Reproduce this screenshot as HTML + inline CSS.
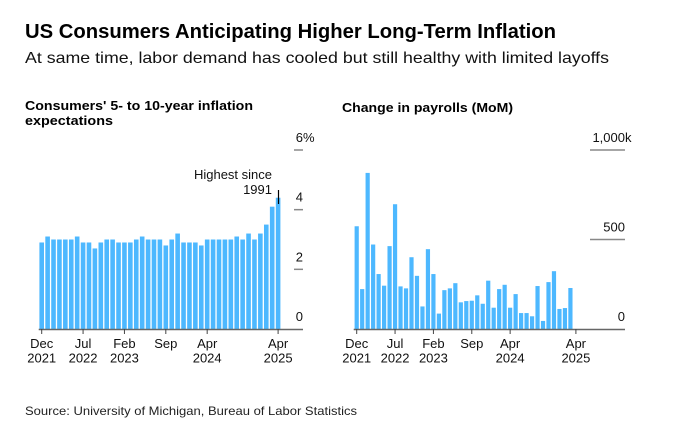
<!DOCTYPE html>
<html><head><meta charset="utf-8"><style>
html,body{margin:0;padding:0;background:#fff;}
svg{display:block;font-family:"Liberation Sans",sans-serif;}
</style></head><body>
<svg id="c" width="674" height="435" viewBox="0 0 674 435">
<text x="25" y="38" font-size="20" font-weight="bold" fill="#000" textLength="531" lengthAdjust="spacingAndGlyphs">US Consumers Anticipating Higher Long-Term Inflation</text>
<text x="25" y="63" font-size="16" fill="#111" textLength="584" lengthAdjust="spacingAndGlyphs">At same time, labor demand has cooled but still healthy with limited layoffs</text>
<text x="25" y="110" font-size="13" font-weight="bold" fill="#000" textLength="228" lengthAdjust="spacingAndGlyphs">Consumers' 5- to 10-year inflation</text>
<text x="25" y="125" font-size="13" font-weight="bold" fill="#000" textLength="88" lengthAdjust="spacingAndGlyphs">expectations</text>
<text x="342" y="112" font-size="13" font-weight="bold" fill="#000" textLength="171" lengthAdjust="spacingAndGlyphs">Change in payrolls (MoM)</text>
<text x="25" y="415" font-size="12" fill="#222" textLength="332" lengthAdjust="spacingAndGlyphs">Source: University of Michigan, Bureau of Labor Statistics</text>
<g id="left"></g>
<g id="right"></g>
<text x="272" y="179" font-size="13" fill="#111" text-anchor="end">Highest since</text>
<text x="272" y="194" font-size="13" fill="#111" text-anchor="end">1991</text>
<line x1="278.5" y1="190" x2="278.5" y2="204" stroke="#000" stroke-width="1.2"/>
</svg>
<script>
const inflValues=[2.9,3.1,3.0,3.0,3.0,3.0,3.1,2.9,2.9,2.7,2.9,3.0,3.0,2.9,2.9,2.9,3.0,3.1,3.0,3.0,3.0,2.8,3.0,3.2,2.9,2.9,2.9,2.8,3.0,3.0,3.0,3.0,3.0,3.1,3.0,3.2,3.0,3.2,3.5,4.1,4.4];
const inflTicks=[0,2,4,6];
const inflTickLabels=["0","2","4","6"];
const payValues=[574,223,872,472,307,242,463,697,238,227,401,297,126,446,307,86,217,227,256,149,156,158,188,141,270,119,223,247,119,195,89,89,71,240,45,262,323,112,117,229];
const payTicks=[0,500,1000];
const payTickLabels=["0","500","1,000"];
const xTickMonths=[0,7,14,21,28,40];
const xTickLabels=[["Dec","2021"],["Jul","2022"],["Feb","2023"],["Sep",""],["Apr","2024"],["Apr","2025"]];
const NS="http://www.w3.org/2000/svg";
function mk(p,t,a){const e=document.createElementNS(NS,t);for(const k in a)e.setAttribute(k,a[k]);p.appendChild(e);return e;}
function panel(g,vals,ticks,labels,suffix,x0,step,yMax,gridX1,gridX2,axisX2,bw,prefix){
  const base=329,top=150;
  const y=v=>base-(v/yMax)*(base-top);
  const x=i=>x0+i*step;
  vals.forEach((v,i)=>{
    const r=mk(g,'rect',{x:x(i)-bw/2,y:y(v),width:bw,height:base-y(v),fill:'#4db8ff'});
    
    
  });
  ticks.forEach((t,i)=>{
    if(t>0){const l=mk(g,'line',{x1:gridX1,x2:gridX2,y1:y(t),y2:y(t),stroke:'#888','stroke-width':1.5});
    
    }
    const tx=mk(g,'text',{x:gridX2,y:y(t)-8,'font-size':13,'text-anchor':'end',fill:'#111'});
    tx.textContent=labels[i];
    
    
    if(i===ticks.length-1){
      const sx=mk(g,'text',{x:gridX2,y:y(t)-8,'font-size':13,fill:'#111'});
      sx.textContent=suffix;
      
      
    }
  });
  const ax=mk(g,'line',{x1:x0-3,x2:axisX2,y1:base+0.5,y2:base+0.5,stroke:'#666','stroke-width':1.5});
  
  
  xTickMonths.forEach((m,i)=>{
    const tl=mk(g,'line',{x1:x(m),x2:x(m),y1:base,y2:base+5,stroke:'#444','stroke-width':1});
    
    
    xTickLabels[i].forEach((s,j)=>{
      if(!s)return;
      const t=mk(g,'text',{x:x(m),y:348+j*14.5,'font-size':13,'text-anchor':'middle',fill:'#111'});
      t.textContent=s;
      
      
    });
  });
}
panel(document.getElementById('left'),inflValues,inflTicks,inflTickLabels,"%",41.7,5.91,6,294,303,303,4.6,'inflation');
panel(document.getElementById('right'),payValues,payTicks,payTickLabels,"k",356.7,5.48,1000,590,625,625,4.2,'payrolls');
</script>
</body></html>
